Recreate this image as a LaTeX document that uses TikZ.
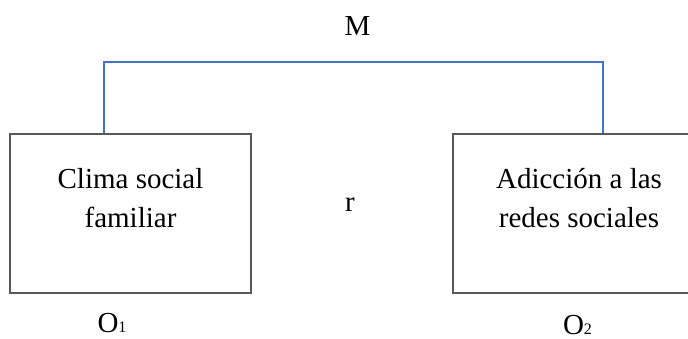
\documentclass[tikz,border=0pt]{standalone}
\usepackage{fontspec}
\setmainfont{Liberation Serif}
\definecolor{azul}{HTML}{4472C4}
\newcommand{\subnum}[1]{{\fontsize{8}{8}\selectfont #1}}

\begin{document}
\begin{tikzpicture}[x=0.5pt,y=-0.5pt,
  caja/.style={draw=black!65, line width=0.65pt, minimum width=120.5pt, minimum height=79.5pt, inner sep=0pt},
  texto/.style={font=\fontsize{14.5}{19.5}\selectfont, align=center, inner sep=0pt, anchor=base},
  enlace/.style={draw=azul, line width=0.75pt}]
\useasboundingbox (0,0) rectangle (688,338);
\clip (0,0) rectangle (688,338);
\node[caja](clima) at (130.5,213.5){};
\node[caja](adiccion) at (573.5,213.5){};
% base anchor sits on the last line
\node[texto](climatxt) at (130.5,227){Clima social\\familiar};
\node[texto](adicciontxt) at (579,227){Adicción a las\\redes sociales};
\node[texto](m) at (357.5,35){M};
\node[texto](r) at (350,211){r};
\node[texto](o1) at (112,332){O\subnum{1}};
\node[texto](o2) at (577.5,334){O\subnum{2}};
\coordinate (izq) at (104,62);
\coordinate (der) at (603,62);
\draw[enlace] (clima.north -| izq) -- (izq) -- (der) -- (adiccion.north -| der);
\end{tikzpicture}
\end{document}
